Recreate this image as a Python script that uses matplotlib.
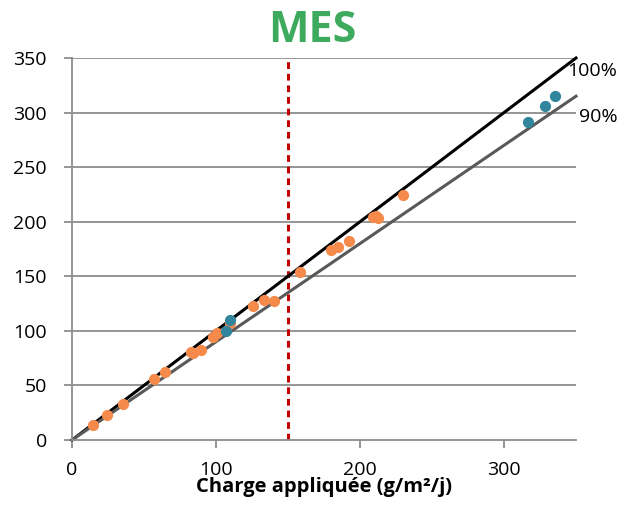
import matplotlib.pyplot as plt
import numpy as np

# orange points: charge appliquee vs charge eliminee
x_orange = [14.8, 24.1, 35.2, 57.2, 64.8, 82.4, 83.8, 89.6, 98, 101, 109.7,
            125.5, 133.3, 140.5, 158.3, 179.6, 184.9, 192.6, 208.8, 212.7, 211, 230]
y_orange = [13.4, 22.6, 32.7, 55.9, 62.6, 80.4, 80, 82.5, 94.7, 98.3, 107,
            123.1, 128.3, 127.1, 154, 174.2, 177.2, 182.7, 204.7, 203.2, 205.5, 224.8]
# blue points
x_blue = [107, 109.7, 316.4, 328.7, 335.6]
y_blue = [100, 110, 291.8, 306, 315.3]

xmax = 350
limit = 150
yticks = [0, 50, 100, 150, 200, 250, 300, 350]
xticks = [0, 100, 200, 300]

plt.rcParams['font.family'] = ['Open Sans', 'DejaVu Sans']
fig = plt.figure(figsize=(6.25, 5.08), dpi=100)
ax = fig.add_axes([0.1152, 0.1339, 0.8064, 0.7519])

for y in yticks[1:]:
    ax.axhline(y, color='#8c8c8c', lw=1.3, zorder=0)

xl = np.array([0, xmax])
ax.plot(xl, xl, color='black', lw=2.2, zorder=2, clip_on=False)
ax.plot(xl, 0.9 * xl, color='#595959', lw=2.2, zorder=2, clip_on=False)
ax.axvline(limit, color='#C00000', lw=2.2, ls=(0, (2.2, 1.6)), zorder=1)

ax.scatter(x_orange, y_orange, s=65, color='#F58A4B', zorder=3, lw=0)
ax.scatter(x_blue, y_blue, s=65, color='#31859C', zorder=4, lw=0)

ax.text(344, 338, '100%', fontsize=14, va='center', ha='left')
ax.text(352, 296, '90%', fontsize=14, va='center', ha='left')

ax.set_xlim(0, xmax)
ax.set_ylim(0, 350)
ax.set_xticks(xticks)
ax.set_yticks(yticks)
ax.tick_params(labelsize=14, color='#8c8c8c', width=1.3, length=6)
ax.tick_params(axis='y', length=6, pad=12)
ax.tick_params(axis='x', pad=9)
for s in ['top', 'right']:
    ax.spines[s].set_visible(False)
for s in ['left', 'bottom']:
    ax.spines[s].set_color('#8c8c8c')
    ax.spines[s].set_linewidth(1.3)

ax.set_xlabel('Charge appliquée (g/m²/j)', fontsize=14.5, fontweight='bold', labelpad=-1)
fig.suptitle('MES', fontsize=31, fontweight='bold', color='#3DAA5E', y=0.982)

plt.savefig('out.png')
